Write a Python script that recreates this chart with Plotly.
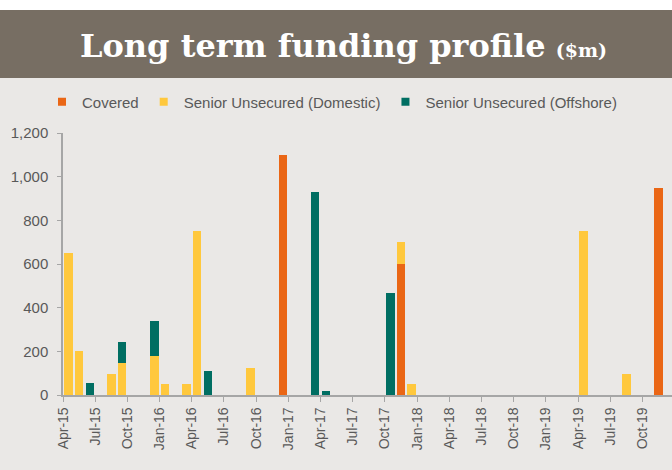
import pandas as pd
import plotly.graph_objects as go

# month of maturity and amount ($m) per series
covered_months = ["Dec-16", "Nov-17", "Nov-19"]
covered_values = [1100, 600, 950]

domestic_months = ["Apr-15", "May-15", "Aug-15", "Sep-15", "Dec-15", "Jan-16", "Mar-16",
                   "Apr-16", "Sep-16", "Nov-17", "Dec-17", "Apr-19", "Aug-19"]
domestic_values = [650, 200, 95, 145, 180, 50, 50, 750, 125, 100, 50, 750, 95]

offshore_months = ["Jun-15", "Sep-15", "Dec-15", "May-16", "Mar-17", "Apr-17", "Oct-17"]
offshore_values = [55, 100, 160, 110, 930, 20, 465]

tick_labels = ["Apr-15", "Jul-15", "Oct-15", "Jan-16", "Apr-16", "Jul-16", "Oct-16",
               "Jan-17", "Apr-17", "Jul-17", "Oct-17", "Jan-18", "Apr-18", "Jul-18",
               "Oct-18", "Jan-19", "Apr-19", "Jul-19", "Oct-19"]

start = pd.Timestamp("2015-04-01")


def month_pos(labels):
    d = pd.to_datetime(labels, format="%b-%y")
    return [(x.year - start.year) * 12 + (x.month - start.month) for x in d]


W, H = 672, 470
L, R, T, B = 63, 0, 133, 75
pw, ph = W - L - R, H - T - B

series = [
    ("Covered", covered_months, covered_values, "#EA6615"),
    ("Senior Unsecured (Domestic)", domestic_months, domestic_values, "#FFC83D"),
    ("Senior Unsecured (Offshore)", offshore_months, offshore_values, "#006E62"),
]

fig = go.Figure()
for name, months, values, color in series:
    fig.add_trace(go.Bar(
        x=[p + 0.5 for p in month_pos(months)], y=values, width=0.8,
        marker=dict(color=color, line=dict(width=0)), showlegend=False, name=name,
    ))
    # small square legend markers
    fig.add_trace(go.Scatter(
        x=[None], y=[None], mode="markers", name=name,
        marker=dict(symbol="square", size=8, color=color),
    ))

tick_pos = month_pos(tick_labels)

fig.update_layout(
    width=W, height=H,
    margin=dict(l=L, r=R, t=T, b=B, autoexpand=False),
    paper_bgcolor="#EAE8E6", plot_bgcolor="#EAE8E6",
    barmode="stack",
    font=dict(family="Liberation Sans, Arial, sans-serif", size=14, color="#595959"),
    legend=dict(
        orientation="h", xref="container", yref="container", traceorder="normal",
        x=42 / W, y=1 - 102 / H, xanchor="left", yanchor="middle",
        font=dict(size=15, color="#595959"), itemwidth=30,
        bgcolor="rgba(0,0,0,0)",
    ),
    shapes=[
        dict(type="rect", xref="paper", yref="paper", x0=-L / pw, x1=1,
             y0=(ph + T - 10) / ph, y1=(ph + T) / ph,
             fillcolor="white", line=dict(width=0), layer="above"),
        dict(type="rect", xref="paper", yref="paper", x0=-L / pw, x1=1,
             y0=(ph + T - 78) / ph, y1=(ph + T - 10) / ph,
             fillcolor="#776E63", line=dict(width=0), layer="above"),
    ],
    annotations=[
        dict(xref="paper", yref="paper", x=(343 - L) / pw, y=(ph + T - 46) / ph,
             xanchor="center", yanchor="middle", showarrow=False,
             text="<b>Long term funding profile</b> <b><span style='font-size:19px'>($m)</span></b>",
             font=dict(family="DejaVu Serif, serif", size=32, color="white")),
    ],
)

fig.update_xaxes(
    range=[0, pw / 10.73], tickvals=tick_pos, ticktext=tick_labels, tickangle=-90,
    showgrid=False, zeroline=False, showline=True, linecolor="#A6A6A6", linewidth=1.5,
    ticks="outside", ticklen=5, tickcolor="#A6A6A6", automargin=False,
    tickfont=dict(size=14, color="#595959"),
)
fig.update_yaxes(
    range=[0, 1200], dtick=200, tickformat=",",
    showgrid=False, zeroline=False, showline=True, linecolor="#A6A6A6", linewidth=1.5,
    ticks="outside", ticklen=4, tickcolor="#A6A6A6", automargin=False,
    ticklabelstandoff=6, tickfont=dict(size=15, color="#595959"),
)

fig.write_html("out.html", config={"displayModeBar": False},
               post_script="document.body.style.margin='0';")
